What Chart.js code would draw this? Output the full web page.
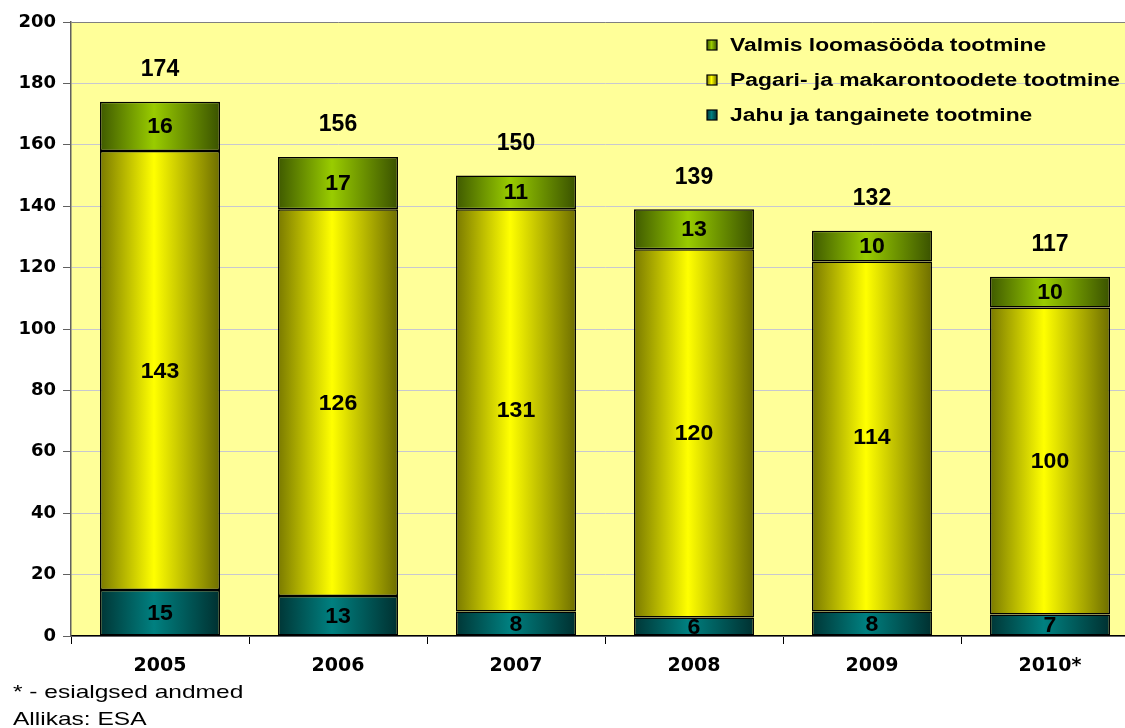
<!DOCTYPE html>
<html><head><meta charset="utf-8">
<script src="https://cdn.jsdelivr.net/npm/chart.js@4/dist/chart.umd.min.js"></script>
<style>html,body{margin:0;padding:0;background:#fff;overflow:hidden;width:1125px;height:728px}#wrap{position:absolute;left:0;top:0;width:1140px;height:728px}</style>
</head><body><div id="wrap"><canvas id="c" width="1140" height="728"></canvas></div>
<script>
const categories = ['2005','2006','2007','2008','2009','2010*'];
const jahu = [15,13,8,6,8,7];
const pagari = [143,126,131,120,114,100];
const valmis = [16,17,11,13,10,10];
const totals = [174,156,150,139,132,117];
const yTicks = [0,20,40,60,80,100,120,140,160,180,200];
const seriesNames = ['Jahu ja tangainete tootmine','Pagari- ja makarontoodete tootmine','Valmis loomasööda tootmine'];
const footnotes = ['* - esialgsed andmed','Allikas: ESA'];

const BAR_PCT = 0.674;
const ARIAL = 'Arial, "Liberation Sans", sans-serif';
const WIDE = '"DejaVu Sans", Verdana, sans-serif';
const palettes = [
  ['#003636','#008080','#003030'],
  ['#7a7a00','#ffff00','#6e6e00'],
  ['#3f5a00','#99cc00','#3a5200']
];
function grad(pal){
  return function(ctx){
    const chart = ctx.chart;
    const xs = chart.scales.x;
    if(!chart.chartArea || !xs || ctx.dataIndex===undefined) return pal[1];
    const cx = xs.getPixelForValue(ctx.dataIndex);
    const w = xs.width/categories.length*BAR_PCT;
    const g = chart.ctx.createLinearGradient(cx-w/2,0,cx+w/2,0);
    g.addColorStop(0,pal[0]);
    g.addColorStop(0.45,pal[1]);
    g.addColorStop(1,pal[2]);
    return g;
  };
}
function stretchText(ctx,txt,x,y,sx){
  ctx.save();
  ctx.translate(x,y);
  ctx.scale(sx,1);
  ctx.fillText(txt,0,0);
  ctx.restore();
}
const bgPlugin = {
  id:'bg',
  beforeDraw(chart){
    const {ctx,chartArea:a}=chart;
    ctx.save();ctx.fillStyle='#ffff99';
    ctx.fillRect(a.left,a.top,a.right-a.left,a.bottom-a.top);
    ctx.restore();
  }
};
const labelPlugin = {
  id:'labels',
  afterDatasetsDraw(chart){
    const ctx=chart.ctx;
    ctx.save();
    ctx.font='bold 22px '+ARIAL;
    ctx.fillStyle='#000';ctx.textAlign='center';ctx.textBaseline='middle';
    chart.data.datasets.forEach((ds,di)=>{
      const meta=chart.getDatasetMeta(di);
      meta.data.forEach((bar,i)=>{
        const y=(bar.y+bar.base)/2;
        stretchText(ctx,String(ds.data[i]),bar.x,y+1,1.05);
      });
    });
    const ys=chart.scales.y, xs=chart.scales.x;
    ctx.font='bold 23px '+ARIAL;
    totals.forEach((t,i)=>{
      ctx.fillText(String(t),xs.getPixelForValue(i),ys.getPixelForValue(t)-32);
    });
    // legend
    const order=[2,1,0];
    const rows=[45,80,115];
    ctx.textAlign='left';
    ctx.font='bold 18px '+ARIAL;
    order.forEach((di,k)=>{
      const y=rows[k];
      const pal=palettes[di];
      const g=ctx.createLinearGradient(707,0,717,0);
      g.addColorStop(0,pal[0]);g.addColorStop(0.45,pal[1]);g.addColorStop(1,pal[2]);
      ctx.fillStyle=g;ctx.fillRect(707,y-5,10,10);
      ctx.strokeStyle='#000';ctx.lineWidth=1.2;ctx.strokeRect(707,y-5,10,10);
      ctx.fillStyle='#000';
      stretchText(ctx,chart.data.datasets[di].label,730,y+1,1.27);
    });
    // footnotes
    ctx.font='19px '+ARIAL;
    ctx.textBaseline='alphabetic';
    stretchText(ctx,footnotes[0],13,698,1.29);
    stretchText(ctx,footnotes[1],13,725,1.29);
    ctx.restore();
  }
};
const ds=(label,data,pal)=>({label,data,backgroundColor:grad(pal),borderColor:'#000',borderWidth:1.5,borderSkipped:false,barPercentage:BAR_PCT,categoryPercentage:1});
new Chart(document.getElementById('c'),{
  type:'bar',
  data:{labels:categories,datasets:[
    ds(seriesNames[0],jahu,palettes[0]),
    ds(seriesNames[1],pagari,palettes[1]),
    ds(seriesNames[2],valmis,palettes[2])
  ]},
  options:{
    responsive:false,animation:false,devicePixelRatio:1,
    layout:{padding:{top:22,right:1,left:0,bottom:0}},
    plugins:{legend:{display:false},tooltip:{enabled:false}},
    scales:{
      x:{stacked:true,offset:true,
        grid:{offset:true,drawOnChartArea:false,tickLength:8,color:'#000',tickColor:'#000'},
        border:{color:'#000',width:1.5},
        ticks:{color:'#000',font:{family:WIDE,size:19,weight:'bold'},padding:11},
        afterFit(s){s.height=92;}
      },
      y:{stacked:true,min:0,max:200,
        afterBuildTicks(s){s.ticks=yTicks.map(v=>({value:v}));},
        grid:{color:(c)=>c.tick&&c.tick.value===200?'#808080':'#c8c8d0',tickLength:8,tickColor:'#606060',lineWidth:1},
        border:{color:'#606060',width:1.5},
        ticks:{color:'#000',font:{family:WIDE,size:18,weight:'bold'},padding:7},
        afterFit(s){s.width=71;}
      }
    }
  },
  plugins:[bgPlugin,labelPlugin]
});
</script></body></html>
